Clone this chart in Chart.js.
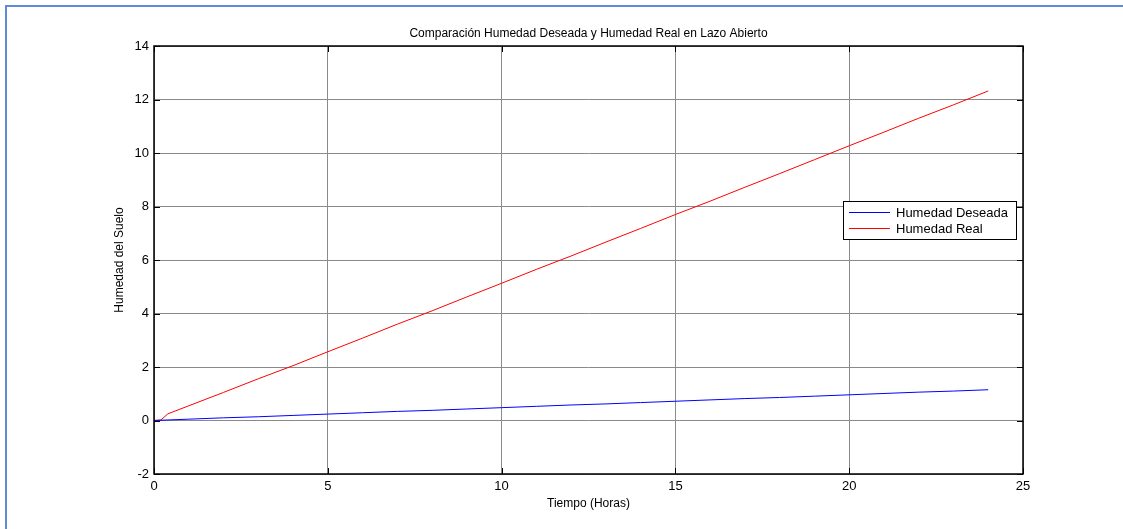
<!DOCTYPE html>
<html>
<head>
<meta charset="utf-8">
<script src="https://cdn.jsdelivr.net/npm/chart.js@4/dist/chart.umd.min.js"></script>
<style>
  html, body { margin: 0; padding: 0; background: #fff; }
  #wrap { position: relative; width: 1123px; height: 529px; overflow: hidden; }
  #frame { position: absolute; left: 5px; top: 5px; width: 1130px; height: 540px;
           border-top: 2px solid #5b8ed6; border-left: 2px solid #5b8ed6; }
  canvas { position: absolute; left: 0; top: 0; }
</style>
</head>
<body>
<div id="wrap">
  <div id="frame"></div>
  <canvas id="chart" width="1123" height="529"></canvas>
</div>
<script>
// data
const chartTitle = "Comparación Humedad Deseada y Humedad Real en Lazo Abierto";
const xTitle = "Tiempo (Horas)";
const yTitle = "Humedad del Suelo";
const seriesNames = ["Humedad Deseada", "Humedad Real"];

const hoursDeseada = [0, 1, 2, 3, 4, 5, 6, 7, 8, 9, 10, 11, 12, 13, 14, 15, 16, 17, 18, 19, 20, 21, 22, 23, 24];
const humedadDeseada = [0, 0.05, 0.1, 0.14, 0.19, 0.24, 0.29, 0.34, 0.38, 0.43, 0.48, 0.53, 0.58, 0.62, 0.67, 0.72, 0.77, 0.82, 0.86, 0.91, 0.96, 1.01, 1.06, 1.1, 1.15];

const hoursReal = [0, 0.2, 0.4, 1, 2, 3, 4, 5, 6, 7, 8, 9, 10, 11, 12, 13, 14, 15, 16, 17, 18, 19, 20, 21, 22, 23, 24];
const humedadReal = [0, 0.02, 0.25, 0.55, 1.05, 1.56, 2.05, 2.57, 3.08, 3.6, 4.1, 4.62, 5.13, 5.65, 6.15, 6.67, 7.18, 7.7, 8.2, 8.72, 9.23, 9.75, 10.27, 10.78, 11.3, 11.8, 12.32];

const xTicks = [0, 5, 10, 15, 20, 25];
const yTicks = [-2, 0, 2, 4, 6, 8, 10, 12, 14];

const fontFamily = "'Liberation Sans', Arial, sans-serif";

function toPoints(xs, ys) {
  return xs.map((x, i) => ({ x: x, y: ys[i] }));
}

// box, inner ticks, title, axis titles and legend, MATLAB style
const matlabPlugin = {
  id: "matlab",
  afterDatasetsDraw(chart) {
    const ctx = chart.ctx;
    const a = chart.chartArea;
    const xs = chart.scales.x, ys = chart.scales.y;
    ctx.save();
    ctx.strokeStyle = "#000";
    ctx.lineWidth = 1;
    // inner tick marks on all four sides
    ctx.beginPath();
    xTicks.forEach(v => {
      const px = Math.round(xs.getPixelForValue(v)) + 0.5;
      ctx.moveTo(px, a.bottom); ctx.lineTo(px, a.bottom - 6);
      ctx.moveTo(px, a.top); ctx.lineTo(px, a.top + 6);
    });
    yTicks.forEach(v => {
      const py = Math.round(ys.getPixelForValue(v)) + 0.5;
      ctx.moveTo(a.left, py); ctx.lineTo(a.left + 6, py);
      ctx.moveTo(a.right, py); ctx.lineTo(a.right - 6, py);
    });
    ctx.stroke();
    // axes box
    ctx.lineWidth = 1.5;
    ctx.strokeRect(a.left, a.top, a.right - a.left, a.bottom - a.top);

    // titles
    ctx.fillStyle = "#000";
    ctx.font = "12px " + fontFamily;
    ctx.textAlign = "center";
    ctx.textBaseline = "middle";
    ctx.fillText(chartTitle, (a.left + a.right) / 2, a.top - 12);
    ctx.fillText(xTitle, (a.left + a.right) / 2, a.bottom + 30);
    ctx.save();
    ctx.translate(a.left - 34, (a.top + a.bottom) / 2);
    ctx.rotate(-Math.PI / 2);
    ctx.fillText(yTitle, 0, 0);
    ctx.restore();

    // legend box
    const bw = 173, bh = 38;
    const bx = a.right - 7 - bw, by = a.top + 155;
    ctx.fillStyle = "#fff";
    ctx.fillRect(bx, by, bw, bh);
    ctx.lineWidth = 1;
    ctx.strokeStyle = "#000";
    ctx.strokeRect(bx + 0.5, by + 0.5, bw, bh);
    ctx.font = "13px " + fontFamily;
    ctx.textAlign = "left";
    chart.data.datasets.forEach((ds, i) => {
      const ly = by + 11.5 + i * 16;
      ctx.strokeStyle = ds.borderColor;
      ctx.beginPath();
      ctx.moveTo(bx + 6, ly); ctx.lineTo(bx + 47, ly);
      ctx.stroke();
      ctx.fillStyle = "#000";
      ctx.fillText(ds.label, bx + 53, ly + 0.5);
    });
    ctx.restore();
  }
};

const ctx = document.getElementById("chart").getContext("2d");
new Chart(ctx, {
  type: "line",
  data: {
    datasets: [
      {
        label: seriesNames[0],
        data: toPoints(hoursDeseada, humedadDeseada),
        borderColor: "rgb(0, 0, 255)",
        borderWidth: 1,
        pointRadius: 0,
        tension: 0,
      },
      {
        label: seriesNames[1],
        data: toPoints(hoursReal, humedadReal),
        borderColor: "rgb(255, 0, 0)",
        borderWidth: 1,
        pointRadius: 0,
        tension: 0,
      },
    ],
  },
  options: {
    responsive: false,
    animation: false,
    layout: { padding: { left: 104, top: 46, right: 100, bottom: 0 } },
    plugins: {
      legend: { display: false },
      title: { display: false },
      tooltip: { enabled: false },
    },
    scales: {
      x: {
        type: "linear",
        min: 0,
        max: 25,
        afterFit: s => { s.height = 55; },
        afterBuildTicks: s => { s.ticks = xTicks.map(v => ({ value: v })); },
        ticks: { color: "#000", padding: 5, font: { family: fontFamily, size: 13 } },
        grid: { color: "#8a8a8a", borderDash: [1, 1], drawTicks: false, lineWidth: 1 },
        border: { display: false },
      },
      y: {
        type: "linear",
        min: -2,
        max: 14,
        afterFit: s => { s.width = 50; },
        afterBuildTicks: s => { s.ticks = yTicks.map(v => ({ value: v })); },
        ticks: { color: "#000", padding: 5, font: { family: fontFamily, size: 13 } },
        grid: { color: "#8a8a8a", borderDash: [1, 1], drawTicks: false, lineWidth: 1 },
        border: { display: false },
      },
    },
  },
  plugins: [matlabPlugin],
});
</script>
</body>
</html>
